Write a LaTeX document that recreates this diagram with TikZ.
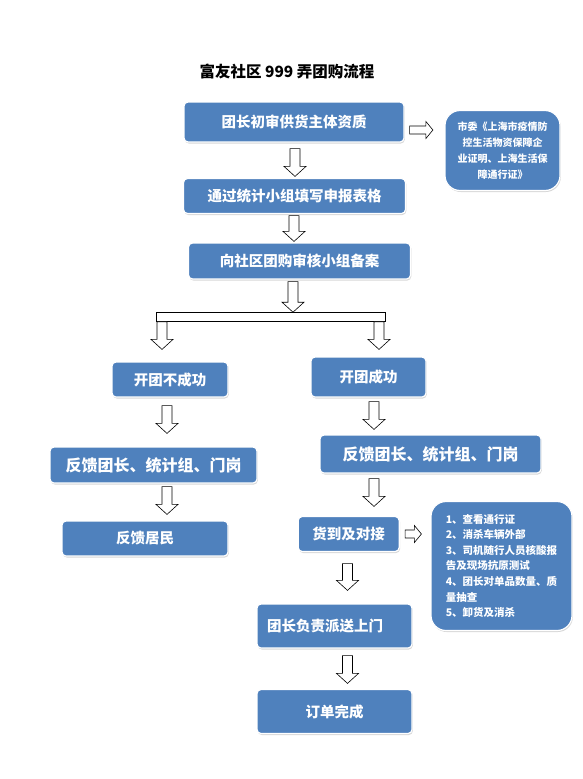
\documentclass[tikz,border=0pt]{standalone}
\usepackage{fontspec}
\setmainfont{Noto Sans CJK SC}
\usetikzlibrary{calc,shadows}

\definecolor{boxblue}{RGB}{79,129,189}

% hollow block arrows: #1 position across, #2 from, #3 to, #4/#5 gaps at the ends
\newcommand*{\vblock}[5]{%
	\draw[blockarrow] let \p1=(#2.south), \p2=(#3.north) in
		(#1pt-5pt,\y1-#4pt) -- (#1pt+5pt,\y1-#4pt) -- (#1pt+5pt,\y2+#5pt+10pt)
		-- (#1pt+11pt,\y2+#5pt+10pt) -- (#1pt,\y2+#5pt) -- (#1pt-11pt,\y2+#5pt+10pt)
		-- (#1pt-5pt,\y2+#5pt+10pt) -- cycle;}
\newcommand*{\hblock}[5]{%
	\draw[blockarrow] let \p1=(#2.east), \p2=(#3.west) in
		(\x1+#4pt,-#1pt+4pt) -- (\x2-#5pt-7pt,-#1pt+4pt) -- (\x2-#5pt-7pt,-#1pt+8.5pt)
		-- (\x2-#5pt,-#1pt) -- (\x2-#5pt-7pt,-#1pt-8.5pt) -- (\x2-#5pt-7pt,-#1pt-4pt)
		-- (\x1+#4pt,-#1pt-4pt) -- cycle;}

\begin{document}
\begin{tikzpicture}
[
	flowbox/.style={rectangle,rounded corners=4pt,fill=boxblue,draw=white,line width=1.2pt,
		drop shadow={shadow xshift=0.8pt,shadow yshift=-1.5pt,fill=black!30},
		text=white,font=\bfseries\fontsize{14.5pt}{17pt}\selectfont,inner sep=0pt},
	notebox/.style={flowbox,rounded corners=15pt,font=\bfseries\fontsize{10.5pt}{15.6pt}\selectfont},
	splitbar/.style={rectangle,draw,fill=white,line width=0.6pt,inner sep=0pt},
	blockarrow/.style={draw,fill=white,line width=0.6pt,line join=miter},
	x=1pt,y=-1pt
]

	\fill[white] (0,0) rectangle (583,779);

	\node[font=\bfseries\fontsize{15.5pt}{18pt}\selectfont] at (287,72) (title) {富友社区 999 弄团购流程};

	% main column
	\node[flowbox,minimum width=220,minimum height=40] at (294,122) (b1) {团长初审供货主体资质};
	\node[flowbox,minimum width=222,minimum height=35] at (294.5,196) (b2) {通过统计小组填写申报表格};
	\node[flowbox,minimum width=222,minimum height=36] at (299.5,261) (b3) {向社区团购审核小组备案};
	\node[notebox,minimum width=115,minimum height=80,align=center,
		font=\bfseries\fontsize{10pt}{15.9pt}\selectfont] at (502.5,150.5) (note1)
		{市委《上海市疫情防\\控生活物资保障企\\业证明、上海生活保\\障通行证》};

	\node[splitbar,minimum width=228.5,minimum height=9] at (270.75,317) (split) {};

	% left branch
	\node[flowbox,minimum width=116,minimum height=35] at (170,379.5) (fail) {开团不成功};
	\node[flowbox,minimum width=207,minimum height=36,
		font=\bfseries\fontsize{16pt}{18pt}\selectfont] at (153.5,465) (fbl) {反馈团长、统计组、门岗};
	\node[flowbox,minimum width=166,minimum height=35] at (145,538.5) (resid) {反馈居民};

	% right branch
	\node[flowbox,minimum width=115,minimum height=40] at (368.5,377) (ok) {开团成功};
	\node[flowbox,minimum width=221,minimum height=38,
		font=\bfseries\fontsize{16pt}{18pt}\selectfont] at (430.5,454) (fbr) {反馈团长、统计组、门岗};
	\node[flowbox,minimum width=101,minimum height=35] at (348.7,534) (arrive) {货到及对接};
	\node[notebox,minimum width=141,minimum height=129,align=left] at (501.5,566) (note2)
		{1、查看通行证\\2、消杀车辆外部\\3、司机随行人员核酸报\\告及现场抗原测试\\4、团长对单品数量、质\\量抽查\\5、卸货及消杀};
	\node[flowbox,text width=135pt,inner xsep=10pt,align=left,minimum height=44] at (334.5,626) (deliv) {团长负责派送上门};
	\node[flowbox,minimum width=155,minimum height=44] at (334.5,711.5) (done) {订单完成};

	% arrows
	\vblock{295}{b1}{b2}{6}{1.5}
	\vblock{294}{b2}{b3}{1.5}{1}
	\vblock{293}{b3}{split}{2}{0}
	\vblock{162}{split}{fail}{0}{12}
	\vblock{379}{split}{ok}{0}{7}
	\vblock{167}{fail}{fbl}{8}{13}
	\vblock{167}{fbl}{resid}{3}{6}
	\vblock{374}{ok}{fbr}{4}{5}
	\vblock{374}{fbr}{arrive}{5}{9.5}
	\vblock{347.5}{arrive}{deliv}{11.5}{13}
	\vblock{347.5}{deliv}{done}{7}{5.5}
	\hblock{130}{b1}{note1}{5}{11.5}
	\hblock{534}{arrive}{note2}{5.3}{9}

\end{tikzpicture}
\end{document}
